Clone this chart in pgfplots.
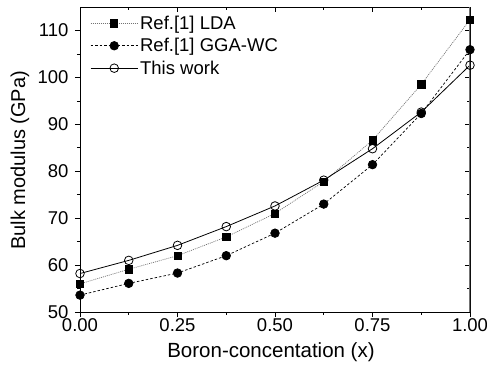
\documentclass[border=0pt]{standalone}
\usepackage{pgfplots}
\pgfplotsset{compat=1.18}
\usepackage{fontspec}
\setmainfont{Liberation Sans}
\begin{document}
\begin{tikzpicture}
\pgfplotsset{
  common/.style={
    scale only axis, width=390pt, height=305pt,
    at={(0,0)}, anchor=south west,
    xmin=0, xmax=1, ymin=50, ymax=115,
    xtick={0,0.25,0.5,0.75,1},
    minor x tick num=1,
    ytick={50,60,70,80,90,100,110},
    minor y tick num=1,
    major tick length=5pt, minor tick length=3pt,
    every tick/.style={black, line width=0.6pt},
  }
}
\begin{axis}[common,
  axis line style={draw=none},
  tick align=inside,
  xtick pos=right, ytick pos=right,
  xticklabels={}, yticklabels={},
]
\end{axis}
\begin{axis}[common,
  axis line style={line width=0.8pt},
  xticklabels={0.00,0.25,0.50,0.75,1.00},
  tick align=outside,
  xtick pos=left, ytick pos=left,
  /pgf/number format/assume math mode=true,
  ticklabel style={font=\fontsize{18.5}{20}\selectfont},
  xticklabel style={yshift=2pt},
  yticklabel style={xshift=-3pt},
  xlabel={Boron-concentation (x)},
  ylabel={Bulk modulus (GPa)},
  xlabel style={font=\fontsize{20.5}{22}\selectfont, at={(axis description cs:0.5,-0.131)}, anchor=center, xshift=-4pt},
  ylabel style={font=\fontsize{20}{22}\selectfont, at={(axis description cs:-0.154,0.497)}, anchor=center, rotate=0},
  legend style={draw=none, fill=none, at={(axis description cs:0.026,0.978)}, anchor=north west, font=\fontsize{18.5}{20}\selectfont, row sep=3.5pt, inner sep=0pt},
  legend cell align=left,
  legend image code/.code={\draw[#1] (0pt,0pt) -- (47pt,0pt); \draw[#1, solid] plot coordinates {(23.5pt,0pt)};},
]
\addplot[black!55, line width=0.7pt, dash pattern=on 1pt off 1pt, mark=square*, mark size=3.6pt, mark options={solid, fill=black, draw=black}] coordinates {
(0,56.0) (0.125,59.1) (0.25,62.0) (0.375,66.0) (0.5,71.0) (0.625,77.8) (0.75,86.6) (0.875,98.5) (1,112.3)};
\addlegendentry{Ref.[1] LDA}
\addplot[black, line width=0.7pt, dash pattern=on 2.5pt off 2pt, mark=*, mark size=4.3pt, mark options={solid, fill=black}] coordinates {
(0,53.6) (0.125,56.1) (0.25,58.3) (0.375,62.0) (0.5,66.8) (0.625,73.0) (0.75,81.4) (0.875,92.3) (1,105.9)};
\addlegendentry{Ref.[1] GGA-WC}
\addplot[black, line width=0.8pt, solid, mark=o, mark size=4.3pt, mark options={solid, fill=white}] coordinates {
(0,58.2) (0.125,61.0) (0.25,64.2) (0.375,68.2) (0.5,72.6) (0.625,78.1) (0.75,84.8) (0.875,92.6) (1,102.6)};
\addlegendentry{This work}
\draw[black!55, line width=1.6pt] (rel axis cs:1,0) -- (rel axis cs:1,1);
\end{axis}
\pgfresetboundingbox
\useasboundingbox (-80pt,-57pt) rectangle (407pt,312pt);
\end{tikzpicture}
\end{document}
